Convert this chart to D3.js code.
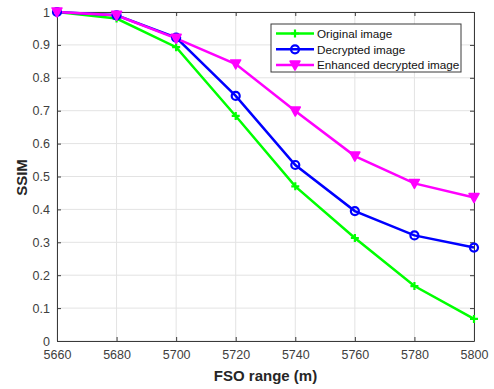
<!DOCTYPE html>
<html>
<head>
<meta charset="utf-8">
<script src="https://cdn.jsdelivr.net/npm/d3@7"></script>
<style>
  html, body { margin: 0; padding: 0; background: #fff; overflow: hidden; }
  svg { display: block; }
  text { font-family: "Liberation Sans", Arial, sans-serif; }
</style>
</head>
<body>
<div id="chart"></div>
<script>
// Data
const ranges = [5660, 5680, 5700, 5720, 5740, 5760, 5780, 5800];
const original = [1.0, 0.98, 0.893, 0.684, 0.47, 0.313, 0.167, 0.067];
const decrypted = [1.0, 0.99, 0.922, 0.745, 0.535, 0.395, 0.321, 0.284];
const enhanced = [1.0, 0.99, 0.92, 0.842, 0.699, 0.562, 0.479, 0.436];
const xTicks = [5660, 5680, 5700, 5720, 5740, 5760, 5780, 5800];
const yTicks = [0, 0.1, 0.2, 0.3, 0.4, 0.5, 0.6, 0.7, 0.8, 0.9, 1];

const series = [
  { name: "Original image", values: original, color: "#00ff00", marker: "plus" },
  { name: "Decrypted image", values: decrypted, color: "#0000ff", marker: "circle" },
  { name: "Enhanced decrypted image", values: enhanced, color: "#ff00ff", marker: "tri" }
];

const width = 494, height = 389;
const margin = { top: 12, right: 20, bottom: 48, left: 57 };
const innerWidth = width - margin.left - margin.right;
const innerHeight = height - margin.top - margin.bottom;

const svg = d3.select("#chart").append("svg")
  .attr("width", width)
  .attr("height", height);

const g = svg.append("g")
  .attr("transform", `translate(${margin.left},${margin.top})`);

const x = d3.scaleLinear().domain([5660, 5800]).range([0, innerWidth]);
const y = d3.scaleLinear().domain([0, 1]).range([innerHeight, 0]);

// grid
g.append("g").selectAll("line").data(xTicks).enter().append("line")
  .attr("x1", d => x(d)).attr("x2", d => x(d))
  .attr("y1", 0).attr("y2", innerHeight)
  .attr("stroke", "#e3e3e3").attr("stroke-width", 1);
g.append("g").selectAll("line").data(yTicks).enter().append("line")
  .attr("y1", d => y(d)).attr("y2", d => y(d))
  .attr("x1", 0).attr("x2", innerWidth)
  .attr("stroke", "#e3e3e3").attr("stroke-width", 1);

// axes (MATLAB style: ticks inside, box)
const axisColor = "#3a3a3a";
const xAxis = g.append("g")
  .attr("transform", `translate(0,${innerHeight})`)
  .call(d3.axisBottom(x).tickValues(xTicks).tickSizeInner(-4).tickSizeOuter(0).tickPadding(9).tickFormat(d3.format("d")));
const yAxis = g.append("g")
  .call(d3.axisLeft(y).tickValues(yTicks).tickSizeInner(-4).tickSizeOuter(0).tickPadding(7).tickFormat(d => d === 0 || d === 1 ? d : d3.format(".1f")(d)));
const xTop = g.append("g")
  .call(d3.axisTop(x).tickValues(xTicks).tickSizeInner(-4).tickSizeOuter(0).tickFormat(""));
const yRight = g.append("g")
  .attr("transform", `translate(${innerWidth},0)`)
  .call(d3.axisRight(y).tickValues(yTicks).tickSizeInner(-4).tickSizeOuter(0).tickFormat(""));

[xAxis, yAxis, xTop, yRight].forEach(a => {
  a.select(".domain").attr("stroke", axisColor).attr("stroke-width", 1);
  a.selectAll(".tick line").attr("stroke", axisColor);
  a.selectAll(".tick text").attr("fill", "#404040").style("font-size", "12.5px");
});

// lines
const line = d3.line().x((d, i) => x(ranges[i])).y(d => y(d));

series.forEach(s => {
  g.append("path")
    .datum(s.values)
    .attr("fill", "none")
    .attr("stroke", s.color)
    .attr("stroke-width", 2.5)
    .attr("d", line);
});

function drawMarker(sel, type, color, cx, cy) {
  if (type === "plus") {
    sel.append("path")
      .attr("d", `M${cx - 4},${cy}H${cx + 4}M${cx},${cy - 4}V${cy + 4}`)
      .attr("stroke", color).attr("stroke-width", 2.2).attr("fill", "none");
  } else if (type === "circle") {
    sel.append("circle")
      .attr("cx", cx).attr("cy", cy).attr("r", 4)
      .attr("stroke", color).attr("stroke-width", 2.2).attr("fill", "none");
  } else {
    sel.append("path")
      .attr("d", `M${cx - 5},${cy - 4}L${cx + 5},${cy - 4}L${cx},${cy + 5}Z`)
      .attr("stroke", color).attr("stroke-width", 1.5).attr("fill", color)
      .attr("stroke-linejoin", "round");
  }
}

series.forEach(s => {
  const mg = g.append("g");
  s.values.forEach((v, i) => drawMarker(mg, s.marker, s.color, x(ranges[i]), y(v)));
});

// axis labels
svg.append("text")
  .attr("x", margin.left + innerWidth / 2)
  .attr("y", 381)
  .attr("text-anchor", "middle")
  .style("font-size", "15px")
  .style("font-weight", "bold")
  .attr("fill", "#262626")
  .text("FSO range (m)");

svg.append("text")
  .attr("transform", `translate(27,${margin.top + innerHeight / 2 + 1}) rotate(-90)`)
  .attr("text-anchor", "middle")
  .style("font-size", "15px")
  .style("font-weight", "bold")
  .attr("fill", "#262626")
  .text("SSIM");

// legend
const legend = svg.append("g");
legend.append("rect")
  .attr("x", 271).attr("y", 24).attr("width", 190).attr("height", 48)
  .attr("fill", "#fff").attr("stroke", "#3a3a3a").attr("stroke-width", 1);

series.forEach((s, i) => {
  const ly = 33.5 + i * 15.8;
  legend.append("line")
    .attr("x1", 276).attr("x2", 314).attr("y1", ly).attr("y2", ly)
    .attr("stroke", s.color).attr("stroke-width", 2.5);
  drawMarker(legend, s.marker, s.color, 295, ly);
  legend.append("text")
    .attr("x", 317).attr("y", ly + 4.2)
    .style("font-size", "11.7px")
    .attr("fill", "#111")
    .text(s.name);
});
</script>
</body>
</html>
